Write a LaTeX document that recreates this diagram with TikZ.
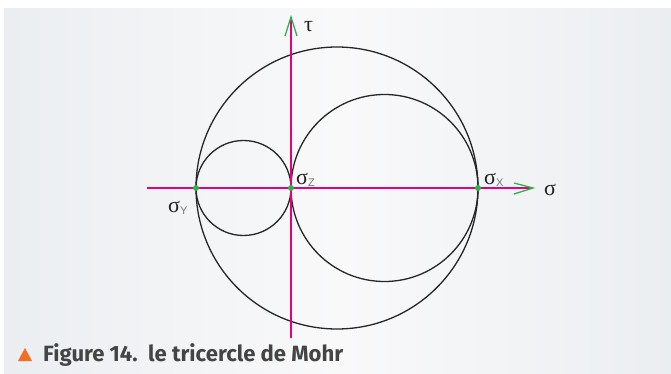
\documentclass[tikz,border=0pt]{standalone}
\usepackage{fontspec}
\setmainfont{Liberation Serif}
\newfontfamily\capfont{Fira Sans}
\newfontfamily\subfont{Liberation Sans}
\usetikzlibrary{calc}
\definecolor{axcol}{HTML}{E6007E}
\definecolor{grn}{HTML}{2DB34A}
\definecolor{bgedge}{HTML}{EBEEF1}
\definecolor{bgmid}{HTML}{F9F9FA}
\definecolor{txt}{HTML}{222222}
\definecolor{subc}{HTML}{777777}
\definecolor{capc}{HTML}{444444}
\definecolor{org}{HTML}{F26F21}
\tikzset{
  circ/.style={draw=black!85, line width=1.3pt},
  axis/.style={draw=axcol, line width=1.2pt},
  tip/.style={draw=grn, line width=1.3pt},
  dot/.style={circle, fill=grn, inner sep=0pt, minimum size=6pt},
  lab/.style={text=txt, font=\fontsize{22}{22}\selectfont, inner sep=0pt},
}
\newcommand{\sg}[1]{σ\raisebox{-2pt}{\subfont\fontsize{11}{11}\selectfont\color{subc}#1}}
\begin{document}
\begin{tikzpicture}[x=1pt,y=-1pt]
\useasboundingbox (0,0) rectangle (671,374);
\fill[left color=bgedge, right color=bgmid] (4,9) rectangle (340,374);
\fill[left color=bgmid, right color=bgedge] (340,9) rectangle (671,374);
% circles
\draw[circ] (337,188) circle[radius=141];
\draw[circ] (243.5,188) circle[radius=47.5];
\draw[circ] (384.5,188) circle[radius=93.5];
% axes
\coordinate (hs) at (147,188);
\coordinate (he) at (533,188);
\coordinate (vs) at (291,338);
\coordinate (ve) at (291,17);
\draw[axis] (hs) -- (he);
\draw[axis] (vs) -- (ve);
\draw[tip] (514,183) -- (he) -- (514,194);
\draw[tip] (285,36) -- (ve) -- (297,36);
% dots
\node[dot] (py) at (196,188) {};
\node[dot] (pz) at (291,188) {};
\node[dot] (px) at (478,188) {};
% labels
\node[lab, anchor=base west] (tau) at (304,32) {τ};
\node[lab, anchor=base west] (sig) at (544,195) {σ};
\node[lab, anchor=base west] (sx) at (484,184) {\sg{X}};
\node[lab, anchor=base west] (sz) at (296,184) {\sg{Z}};
\node[lab, anchor=base west] (sy) at (168,212) {\sg{Y}};
% caption
\fill[org] (18,361) -- (32,361) -- (25,348) -- cycle;
\node[anchor=west, inner sep=0pt, text=capc] (cap) at (43,355) {\resizebox{300pt}{!}{\capfont\bfseries Figure 14.\ \ le tricercle de Mohr}};
\end{tikzpicture}
\end{document}
